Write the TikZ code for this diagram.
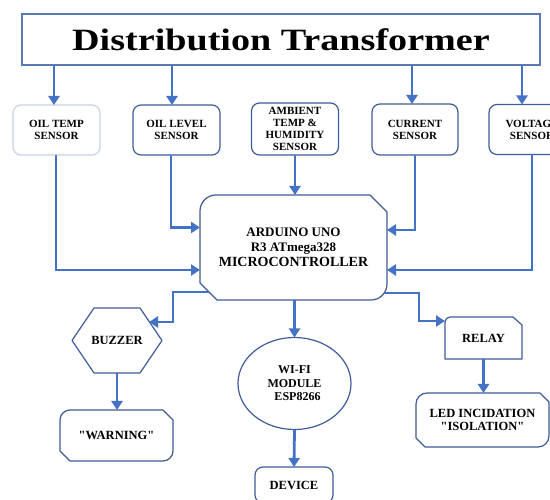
\documentclass[tikz,border=0pt]{standalone}
\usepackage{fontspec}
\usepackage{graphicx}
\setmainfont{Liberation Serif}[Ligatures=TeXOff]
\usetikzlibrary{arrows.meta,shapes.geometric,calc}
\definecolor{arrowblue}{HTML}{4472C4}
\definecolor{boxblue}{HTML}{3F5B98}
\definecolor{titleblue}{HTML}{5A7AB5}
\definecolor{lightbox}{HTML}{C8D3E5}
\tikzset{
  arr/.style={draw=arrowblue, line width=2.8pt, -{Triangle[width=11pt,length=9pt]}},
  boxline/.style={draw=boxblue, line width=1.2pt, line join=round},
  txt/.style={font=\bfseries\fontsize{12.5}{13.5}\selectfont, align=center, inner sep=0pt, outer sep=0pt},
  sensor/.style={txt, draw=boxblue, line width=1.2pt, rounded corners=8pt, minimum width=87pt, minimum height=50pt, fill=white, font=\bfseries\fontsize{11}{12}\selectfont}
}
\newcommand\snipbox[3]{%
  \draw[boxline] ([yshift=-#2]#1.north west) .. controls ([yshift=-0.448*#2]#1.north west) and ([xshift=0.448*#2]#1.north west) .. ([xshift=#2]#1.north west)
   -- ([xshift=-#3]#1.north east) -- ([yshift=-#3]#1.north east)
   -- ([yshift=#2]#1.south east) .. controls ([yshift=0.448*#2]#1.south east) and ([xshift=-0.448*#2]#1.south east) .. ([xshift=-#2]#1.south east)
   -- ([xshift=#3]#1.south west) -- ([yshift=#3]#1.south west) -- cycle;}
\begin{document}
\begin{tikzpicture}[x=1pt,y=-1pt]
\useasboundingbox (0,0) rectangle (550,500);
\clip (0,0) rectangle (550,500);
\fill[white] (0,0) rectangle (550,500);

% title
\node[draw=titleblue, line width=1.3pt, minimum width=518pt, minimum height=51pt, inner sep=0pt] (title) at (281,39.5)
  {\scalebox{1.23}[1]{\bfseries\fontsize{31}{31}\selectfont Distribution Transformer}};

% sensors
\node[sensor, draw=lightbox] (ot) at (56.5,130) {OIL TEMP\\SENSOR};
\node[sensor] (ol) at (176.5,130) {OIL LEVEL\\SENSOR};
\node[sensor, minimum height=52pt] (amb) at (295,129) {AMBIENT\\TEMP \&\\HUMIDITY\\SENSOR};
\node[sensor, minimum width=86pt, minimum height=51pt] (cur) at (415,129.5) {CURRENT\\SENSOR};
\node[sensor, minimum width=86pt] (volt) at (532,129.5) {VOLTAGE\\SENSOR};

\coordinate (t1) at (54,65);
\coordinate (t2) at (172,65);
\coordinate (t3) at (412,65);
\coordinate (t4) at (522,65);
\draw[arr] (t1) -- (t1 |- ot.north);
\draw[arr] (t2) -- (t2 |- ol.north);
\draw[arr] (t3) -- (t3 |- cur.north);
\draw[arr] (t4) -- (t4 |- volt.north);

% microcontroller
\node[txt, font=\bfseries\fontsize{13}{15}\selectfont, minimum width=187pt, minimum height=105pt] (mcu) at (293.5,247.5)
  {ARDUINO UNO\\R3 ATmega328\\{\fontsize{14}{15}\selectfont MICROCONTROLLER}};
\snipbox{mcu}{16pt}{17pt}

\draw[arr] ([xshift=-0.5pt]ot.south) |- ([yshift=-22.5pt]mcu.west);
\draw[arr] ([xshift=-5.5pt]ol.south) |- ([yshift=20pt]mcu.west);
\draw[arr] (amb.south) -- (amb.south |- mcu.north);
\draw[arr] (cur.south) |- ([yshift=17.5pt]mcu.east);
\draw[arr] (volt.south) |- ([yshift=-22.5pt]mcu.east);

% buzzer
\node[txt, minimum width=90pt, minimum height=65pt] (buz) at (117,340.5) {BUZZER};
\draw[boxline] (buz.west) -- ([xshift=22pt]buz.north west) -- ([xshift=-22pt]buz.north east) -- (buz.east)
  -- ([xshift=-22pt]buz.south east) -- ([xshift=22pt]buz.south west) -- cycle;
\coordinate (bzin) at (149,322);
\draw[arr] ([xshift=9pt,yshift=8pt]mcu.south west) -| ([xshift=24pt]bzin) -- (bzin);

% warning
\node[txt, minimum width=113pt, minimum height=51pt] (warn) at (116.5,435.5) {"WARNING"};
\snipbox{warn}{10pt}{10pt}
\draw[arr] (buz.south) -- (buz.south |- warn.north);

% wifi
\node[txt, font=\bfseries\fontsize{12}{13.5}\selectfont, draw=boxblue, line width=1.2pt, ellipse, minimum width=113pt, minimum height=92pt] (wifi) at (294.5,383.5)
  {WI-FI\\MODULE\\\hspace*{6pt}ESP8266};
\draw[arr] (wifi.north |- mcu.south) -- (wifi.north);

% device
\node[txt, draw=boxblue, line width=1.2pt, rounded corners=8pt, minimum width=78pt, minimum height=36pt] (dev) at (294,485) {DEVICE};
\draw[arr] (wifi.south) -- (dev.north);

% relay
\node[txt, minimum width=77pt, minimum height=42pt] (relay) at (483.5,338) {RELAY};
\draw[boxline] (relay.south west) -- ([yshift=-5pt]relay.north west) .. controls ([yshift=-2.2pt]relay.north west) and ([xshift=2.2pt]relay.north west) .. ([xshift=5pt]relay.north west)
  -- ([xshift=-9pt]relay.north east) -- ([yshift=-8pt]relay.north east) -- (relay.south east) -- cycle;
\draw[arr] ([xshift=-3pt,yshift=7pt]mcu.south east) -| ([xshift=-26pt,yshift=17pt]relay.west) -- ([yshift=17pt]relay.west);

% led
\node[txt, font=\bfseries\fontsize{12.5}{13}\selectfont, minimum width=133pt, minimum height=54pt] (led) at (482.5,420) {LED INCIDATION\\"ISOLATION"};
\snipbox{led}{11pt}{9pt}
\draw[arr] (relay.south) -- (relay.south |- led.north);
\end{tikzpicture}
\end{document}
